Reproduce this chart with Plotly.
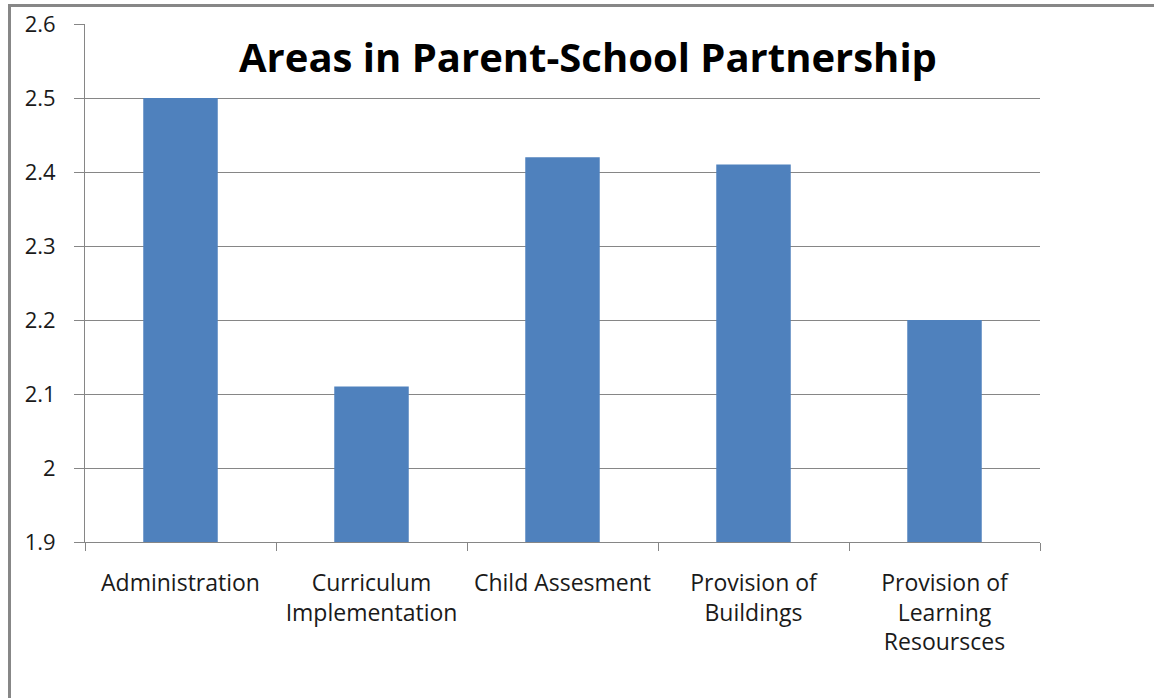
import plotly.graph_objects as go

categories = ["Administration", "Curriculum<br>Implementation", "Child Assesment",
              "Provision of<br>Buildings", "Provision of<br>Learning<br>Resoursces"]
values = [2.5, 2.11, 2.42, 2.41, 2.2]
tick_vals = [1.9, 2.0, 2.1, 2.2, 2.3, 2.4, 2.5, 2.6]
tick_text = ["1.9", "2", "2.1", "2.2", "2.3", "2.4", "2.5", "2.6"]
title_text = "Areas in Parent-School Partnership"

W, H = 1154, 698
ml, mr, mt, mb = 85, 114, 24, 156
pw, ph = W - ml - mr, H - mt - mb

def px_x(x):
    return (x - ml) / pw

def px_y(y):
    return 1 - (y - mt) / ph

fig = go.Figure(go.Bar(
    x=categories, y=values,
    marker=dict(color="#4F81BD", line=dict(width=0)),
))

fig.update_layout(
    width=W, height=H,
    margin=dict(l=ml, r=mr, t=mt, b=mb, autoexpand=False),
    paper_bgcolor="white", plot_bgcolor="white",
    bargap=0.61,
    showlegend=False,
    font=dict(family="Open Sans", color="#000000"),
    shapes=[
        dict(type="line", xref="paper", yref="paper",
             x0=px_x(9.5), x1=px_x(W + 5), y0=px_y(5.5), y1=px_y(5.5),
             line=dict(color="#878787", width=3)),
        dict(type="line", xref="paper", yref="paper",
             x0=px_x(9.5), x1=px_x(9.5), y0=px_y(4), y1=px_y(H + 5),
             line=dict(color="#878787", width=3)),
    ],
    annotations=[
        dict(text="<b>" + title_text + "</b>", xref="paper", yref="paper",
             x=px_x(588), y=px_y(57), xanchor="center", yanchor="middle",
             showarrow=False, font=dict(size=40, family="Open Sans", color="#000000")),
    ],
)

fig.update_xaxes(
    type="category", automargin=False,
    showline=True, linecolor="#868686", linewidth=1,
    ticks="outside", tickson="boundaries", ticklen=8, tickcolor="#868686",
    showgrid=False,
    ticklabelstandoff=20,
    tickfont=dict(size=23, family="Open Sans", color="#1a1a1a"),
)
fig.update_yaxes(
    range=[1.9, 2.6], automargin=False,
    tickvals=tick_vals, ticktext=tick_text,
    showline=True, linecolor="#868686", linewidth=1,
    ticks="outside", ticklen=10, tickcolor="#868686",
    showgrid=True, gridcolor="#868686", gridwidth=1,
    zeroline=False,
    ticklabelstandoff=14,
    tickfont=dict(size=22, family="Open Sans", color="#1a1a1a"),
)

fig.write_html("out.html")
